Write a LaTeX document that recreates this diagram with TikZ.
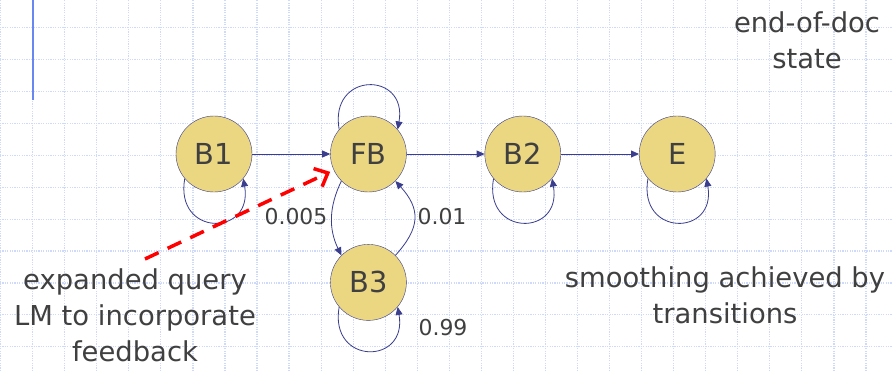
\documentclass[tikz,border=0pt]{standalone}
\usepackage{fontspec}
\setmainfont{DejaVu Sans}
\usetikzlibrary{positioning,arrows.meta}
\definecolor{stategold}{RGB}{235,214,130}
\definecolor{statedge}{RGB}{58,62,140}
\definecolor{inkgrey}{RGB}{64,64,64}
\definecolor{gridblue}{RGB}{206,217,252}
\definecolor{railblue}{RGB}{105,135,240}

\begin{document}
\begin{tikzpicture} [
	x=1bp,y=1bp,
	text centered,
	node distance=77bp,
	state/.style={
		circle,minimum size=76bp,inner sep=0pt,draw=statedge,
		fill=stategold,text=inkgrey,font=\fontsize{29}{30}\selectfont
	},
	conn/.style={
		draw=statedge,line width=0.8bp,-{Triangle[length=8bp,width=7bp]}
	},
	selfloop/.style={out=260,in=280,looseness=2.6},
	prob/.style={text=inkgrey,font=\fontsize{22}{24}\selectfont},
	remark/.style={
		text=inkgrey,align=center,font=\fontsize{27.5}{36}\selectfont
	},
	gridline/.style={draw=gridblue,line width=1.2bp,dash pattern=on 1.2bp off 1.2bp},
	feedback/.style={
		draw=red,line width=3.5bp,dash pattern=on 15bp off 10bp,
		shorten >=4bp,-{Straight Barb[length=11bp,width=20bp]}
	}
]
\useasboundingbox (0,0) rectangle (893,371);
\fill [white] (0,0) rectangle (893,371);
\foreach \gx in {0,...,27}
	\draw [gridline] (0.6+32.05*\gx,0) -- (0.6+32.05*\gx,371);
\foreach \gy in {1,...,11}
	\draw [gridline] (0,375.2-31.9*\gy) -- (893,375.2-31.9*\gy);
\draw [railblue,line width=1.6bp] (33,371) -- (33,271);

\node [state]	(B1) at (214,217)		{B1};
\node [state]	(FB) [right=78bp of B1]	{FB};
\node [state]	(B2) [right=78bp of FB]	{B2};
\node [state]	(E) [right=78bp of B2]	{E};
\node [state]	(B3) [below=52bp of FB]	{B3};

\draw [conn] (B1) -- (FB);
\draw [conn] (FB) -- (B2);
\draw [conn] (B2) -- (E);
\draw [conn] (B1.220) to [selfloop] (B1.320);
\draw [conn] (B2.220) to [selfloop] (B2.320);
\draw [conn] (E.220) to [selfloop] (E.320);
\draw [conn] (B3.220) to [selfloop] (B3.320);
\draw [conn] (FB.140) to [out=100,in=80,looseness=2.6] (FB.40);
\draw [conn] (FB.225) to [out=244,in=116] (B3.135);
\draw [conn] (B3.45) to [out=48,in=-48,looseness=1.3] (FB.315);

\node [prob]	(p005) at (296,154)	{0.005};
\node [prob]	(p01) at (442,154)	{0.01};
\node [prob]	(p99) at (443,43)	{0.99};

\node [remark]	(eod) at (807,331)	{end-of-doc\\state};
\node [remark]	(smooth) at (725,76)	{smoothing achieved by\\transitions};
\node [remark]	(query) at (135,56)	{expanded query\\LM to incorporate\\feedback};

\coordinate (qstart) at (145,112);
\draw [feedback] (qstart) -- (FB.205);
\end{tikzpicture}
\end{document}
